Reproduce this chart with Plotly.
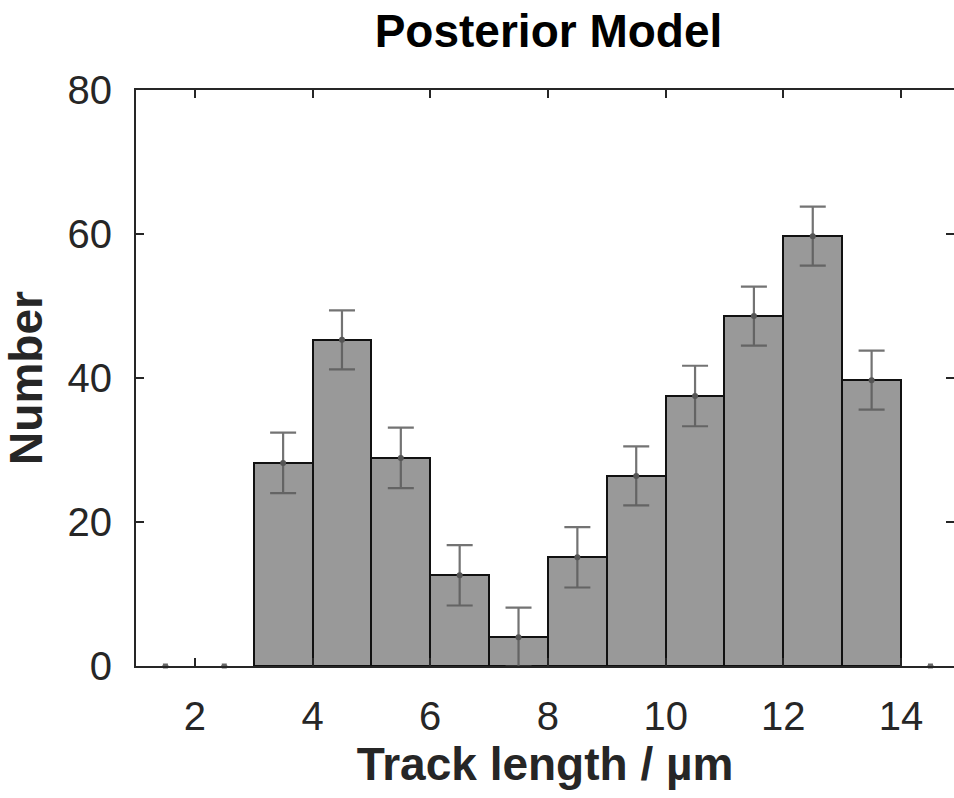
import plotly.graph_objects as go

bin_centers = [3.5, 4.5, 5.5, 6.5, 7.5, 8.5, 9.5, 10.5, 11.5, 12.5, 13.5]
counts = [28.2, 45.3, 28.9, 12.6, 4.0, 15.1, 26.4, 37.5, 48.6, 59.7, 39.7]
errors = [4.2, 4.1, 4.2, 4.2, 4.1, 4.2, 4.1, 4.2, 4.1, 4.1, 4.1]
empty_centers = [1.5, 2.5, 14.5]
empty_counts = [0, 0, 0]
x_ticks = [2, 4, 6, 8, 10, 12, 14]
y_ticks = [0, 20, 40, 60, 80]

FONT = "Liberation Sans, Arial, Helvetica, sans-serif"
TXT = "#262626"
ERR = "rgba(90,90,90,0.85)"

fig = go.Figure()
fig.add_trace(go.Bar(
    x=bin_centers, y=counts, width=1.0,
    marker=dict(color="#999999", line=dict(color="#111111", width=2)),
    showlegend=False,
))
fig.add_trace(go.Scatter(
    x=bin_centers, y=counts, mode="markers",
    marker=dict(color="#555555", size=6),
    error_y=dict(type="data", array=errors, color=ERR, thickness=2.2, width=13),
    showlegend=False,
))
fig.add_trace(go.Scatter(
    x=empty_centers, y=empty_counts, mode="markers",
    marker=dict(color="#666666", size=5, symbol="square"),
    error_y=dict(type="data", array=[0, 0, 0], color=ERR, thickness=2, width=3),
    showlegend=False, cliponaxis=False,
))
# invisible trace for mirrored axes
fig.add_trace(go.Scatter(x=[1], y=[0], xaxis="x2", yaxis="y2", mode="markers",
                         marker=dict(opacity=0), showlegend=False, hoverinfo="skip"))

axis_common = dict(ticks="inside", ticklen=8, tickcolor="#262626", tickwidth=1.5,
                   showgrid=False, zeroline=False)

fig.update_layout(
    width=954, height=798,
    margin=dict(l=136, r=0, t=90, b=132),
    plot_bgcolor="white", paper_bgcolor="white",
    bargap=0,
    title=dict(text="<b>Posterior Model</b>", x=(375 + 722) / 2 / 954, xanchor="center",
               y=1 - 31 / 798, yanchor="middle",
               font=dict(family=FONT, size=46, color="black")),
    xaxis=dict(range=[1, 14.9], tickvals=x_ticks, showline=True, linecolor="#262626",
               linewidth=2, tickfont=dict(family=FONT, size=40, color=TXT),
               ticklabelstandoff=14,
               title=dict(text="<b>Track length / µm</b>", standoff=8,
                          font=dict(family=FONT, size=46, color=TXT)),
               **axis_common),
    yaxis=dict(range=[0, 80], tickvals=y_ticks, showline=True, linecolor="#262626",
               linewidth=2, tickfont=dict(family=FONT, size=40, color=TXT),
               ticklabelstandoff=14,
               title=dict(text="<b>Number</b>", standoff=14,
                          font=dict(family=FONT, size=46, color=TXT)),
               **axis_common),
    xaxis2=dict(range=[1, 14.9], tickvals=x_ticks, overlaying="x", side="top",
                showline=True, linecolor="#262626", linewidth=2, showticklabels=False,
                **axis_common),
    yaxis2=dict(range=[0, 80], tickvals=y_ticks, overlaying="y", side="right",
                showline=False, showticklabels=False, **axis_common),
)

fig.write_html("out.html")
